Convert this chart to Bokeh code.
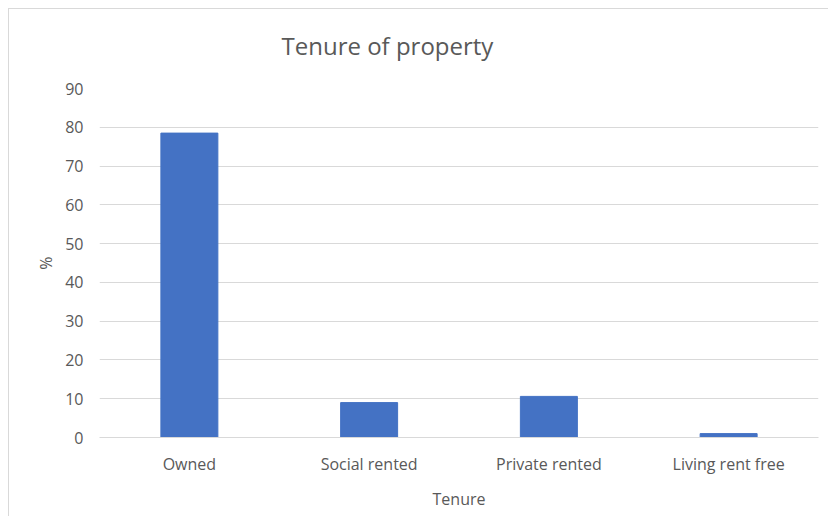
from bokeh.plotting import figure
from bokeh.models import Title, FixedTicker
from bokeh.embed import file_html
from bokeh.resources import INLINE

categories = ["Owned", "Social rented", "Private rented", "Living rent free"]
values = [78.5, 9.0, 10.6, 1.0]
y_ticks = [0, 10, 20, 30, 40, 50, 60, 70, 80, 90]

FONT = "Open Sans"
GREY = "#595959"

p = figure(x_range=categories, y_range=(0, 90), width=828, height=516,
           output_backend="svg", toolbar_location=None,
           min_border_left=99, min_border_right=10, min_border_top=88, min_border_bottom=79)

p.vbar(x=categories, top=values, width=0.317, fill_color="#4472C4", line_color="#4472C4")

p.outline_line_color = None
p.border_fill_color = None
p.background_fill_color = "white"
p.styles = {"background-color": "white",
            "box-shadow": "inset 8px 8px 0 0 white, inset 9px 9px 0 0 #D9D9D9"}

t = Title(text="Tenure of property", align="left", offset=182,
          text_font=FONT, text_font_size="24px", text_font_style="normal",
          text_color=GREY, standoff=53)
p.add_layout(t, "above")

p.xgrid.grid_line_color = None
p.ygrid.grid_line_color = "#D9D9D9"
p.ygrid.grid_line_width = 1

p.yaxis.ticker = FixedTicker(ticks=y_ticks)
p.yaxis.axis_line_color = None
p.yaxis.major_tick_line_color = None
p.yaxis.major_tick_out = 0
p.yaxis.minor_tick_line_color = None
p.yaxis.minor_tick_out = 0
p.yaxis.major_label_text_font = FONT
p.yaxis.major_label_text_font_size = "16px"
p.yaxis.major_label_text_color = GREY
p.yaxis.major_label_standoff = 16
p.yaxis.axis_label = "%"
p.yaxis.axis_label_text_font = FONT
p.yaxis.axis_label_text_font_size = "16px"
p.yaxis.axis_label_text_font_style = "normal"
p.yaxis.axis_label_text_color = GREY
p.yaxis.axis_label_standoff = 5

p.xaxis.axis_line_color = "#D9D9D9"
p.xaxis.major_tick_line_color = None
p.xaxis.major_tick_out = 0
p.xaxis.minor_tick_line_color = None
p.xaxis.minor_tick_out = 0
p.xaxis.major_label_text_font = FONT
p.xaxis.major_label_text_font_size = "16px"
p.xaxis.major_label_text_color = GREY
p.xaxis.major_label_standoff = 15
p.xaxis.axis_label = "Tenure"
p.xaxis.axis_label_text_font = FONT
p.xaxis.axis_label_text_font_size = "16px"
p.xaxis.axis_label_text_font_style = "normal"
p.xaxis.axis_label_text_color = GREY
p.xaxis.axis_label_standoff = 10

open("out.html", "w").write(file_html(p, INLINE))
